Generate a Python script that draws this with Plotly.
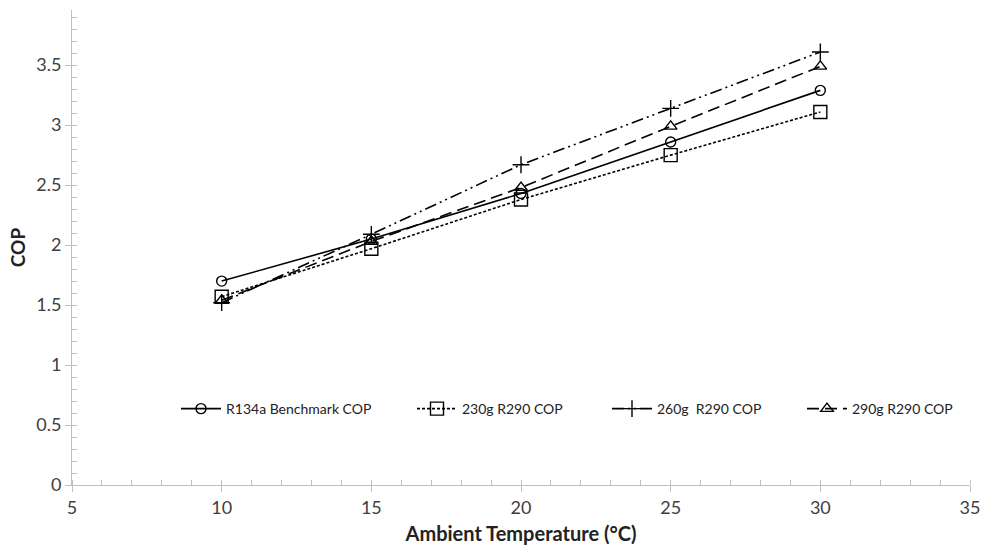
import plotly.graph_objects as go

temps = [10, 15, 20, 25, 30]
r134a = [1.70, 2.05, 2.43, 2.86, 3.29]
r290_230 = [1.57, 1.97, 2.38, 2.75, 3.11]
r290_260 = [1.52, 2.09, 2.67, 3.14, 3.61]
r290_290 = [1.54, 2.03, 2.48, 2.99, 3.49]

names = ["R134a Benchmark COP", "230g R290 COP", "260g  R290 COP", "290g R290 COP"]
series = [r134a, r290_230, r290_260, r290_290]
dashes = ["solid", "3px,2px", "12px,4px,2px,4px,2px,4px", "12px,6px"]
symbols = ["circle-open", "square-open", "cross-thin-open", "triangle-up-open"]
sizes = [10, 13, 12, 11]
legend_ids = ["legend", "legend2", "legend3", "legend4"]
legend_px = [176, 412, 607, 802]   # pixel left edge of each legend box

FONT = "Lato, Open Sans, Arial"
W, H = 982, 549
L, R, T, B = 72, 12, 10, 64
plot_w = W - L - R
plot_h = H - T - B

fig = go.Figure()
for n, s, d, sym, sz, lg in zip(names, series, dashes, symbols, sizes, legend_ids):
    fig.add_trace(go.Scatter(
        x=temps, y=s, name=n, mode="lines+markers", legend=lg,
        line=dict(color="black", width=1.6, dash=d),
        marker=dict(symbol=sym, size=sz, color="black", line=dict(color="black", width=1.4)),
    ))

legend_style = dict(orientation="h", y=0.16, xanchor="left", yanchor="middle",
                    font=dict(family=FONT, size=14, color="#222"),
                    bgcolor="rgba(0,0,0,0)", itemwidth=40)
legends = {}
for lg, px in zip(legend_ids, legend_px):
    legends[lg] = dict(legend_style, x=(px - L) / plot_w)

axis_font = dict(family=FONT, size=18, color="#404040")
fig.update_layout(
    width=W, height=H,
    margin=dict(l=L, r=R, t=T, b=B, autoexpand=False),
    plot_bgcolor="white", paper_bgcolor="white",
    showlegend=True,
    xaxis=dict(range=[5, 35], dtick=5, tick0=5, showgrid=False, zeroline=False,
               automargin=False,
               showline=True, linecolor="#bfbfbf", linewidth=1,
               ticks="outside", ticklen=6, tickcolor="#bfbfbf",
               minor=dict(dtick=1, ticks="inside", ticklen=5, tickcolor="#bfbfbf"),
               tickfont=axis_font,
               title=dict(text="<b>Ambient Temperature (°C)</b>", standoff=10,
                          font=dict(family=FONT, size=20, color="#222"))),
    yaxis=dict(range=[0, 3.96], dtick=0.5, showgrid=False, zeroline=False,
               automargin=False,
               showline=True, linecolor="#bfbfbf", linewidth=1,
               ticks="outside", ticklen=6, tickcolor="#bfbfbf",
               minor=dict(dtick=0.1, ticks="inside", ticklen=5, tickcolor="#bfbfbf"),
               tickfont=axis_font,
               title=dict(text="<b>COP</b>", standoff=5,
                          font=dict(family=FONT, size=19, color="#222"))),
    **legends,
)

fig.write_html("out.html", config={"displayModeBar": False},
               post_script="document.body.style.margin='0px';document.body.style.overflow='hidden';")
